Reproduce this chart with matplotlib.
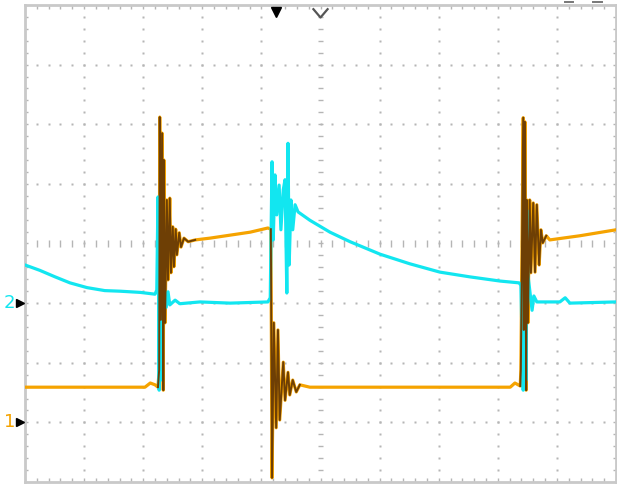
import numpy as np
import matplotlib.pyplot as plt

# screen units: 10 horizontal divisions, 8 vertical divisions
# channel 1 (orange) trace, in divisions
ch1_x = [0.00, 2.03, 2.12, 2.20, 2.25,
         2.27, 2.28, 2.30, 2.32, 2.34, 2.35, 2.37, 2.40, 2.42, 2.45, 2.47, 2.50, 2.52,
         2.55, 2.57, 2.61, 2.64, 2.69, 2.76, 2.88, 3.13, 3.47, 3.81, 4.11, 4.16,
         4.18, 4.21, 4.25, 4.28, 4.31, 4.37, 4.40, 4.45, 4.48, 4.53, 4.59, 4.65, 4.82,
         6.35, 8.21, 8.29, 8.38,
         8.39, 8.43, 8.44, 8.46, 8.48, 8.49, 8.51, 8.54, 8.56, 8.60, 8.63, 8.66, 8.70,
         8.73, 8.76, 8.82, 8.88, 9.39, 10.0]
ch1_y = [-2.41, -2.41, -2.34, -2.37, -2.41,
         -2.12, 2.12, -1.28, 1.85, -2.46, 1.40, -1.33, 0.73, -0.61, 0.76, -0.49, 0.28, -0.39,
         0.24, -0.19, 0.18, -0.06, 0.09, 0.03, 0.06, 0.09, 0.14, 0.19, 0.26, 0.24,
         -3.93, -1.33, -3.09, -1.45, -2.96, -1.99, -2.63, -2.16, -2.54, -2.29, -2.49, -2.37, -2.41,
         -2.41, -2.41, -2.34, -2.39,
         -2.12, 2.11, -1.45, 2.04, -2.46, 0.73, -1.33, 0.73, -0.49, 0.68, -0.48, 0.65, -0.36,
         0.23, 0.01, 0.13, 0.06, 0.13, 0.23]

# channel 2 (cyan) trace, in divisions
ch2_x = [0.00, 0.25, 0.51, 0.76, 1.05, 1.35, 1.61, 1.95, 2.20,
         2.23, 2.25, 2.27, 2.28, 2.30, 2.32, 2.35, 2.39, 2.42, 2.45, 2.54, 2.62, 2.96, 3.47, 4.11,
         4.15, 4.16, 4.18, 4.20, 4.23, 4.26, 4.30, 4.33, 4.37, 4.40, 4.43, 4.45, 4.47, 4.50,
         4.53, 4.57, 4.62,
         4.82, 5.16, 5.50, 6.01, 6.51, 7.02, 7.53, 8.04, 8.36,
         8.39, 8.43, 8.44, 8.48, 8.49, 8.51, 8.54, 8.58, 8.61, 8.66, 9.05, 9.14, 9.22, 10.0]
ch2_y = [-0.36, -0.45, -0.56, -0.66, -0.74, -0.79, -0.80, -0.82, -0.85,
         -0.78, 0.78, -2.46, 0.73, -2.29, -0.78, -0.66, -1.07, -0.81, -1.03, -0.95, -1.01, -0.98, -1.00, -0.98,
         -0.91, -0.11, 1.37, 0.06, 1.15, 0.48, 0.98, 0.23, 0.90, 1.07, -0.83, 1.68, -0.36, 0.73,
         0.23, 0.65, 0.53,
         0.39, 0.19, 0.03, -0.18, -0.34, -0.48, -0.56, -0.63, -0.66,
         -0.70, -2.46, 0.73, -2.29, 0.56, -0.53, -0.78, -1.12, -0.88, -0.98, -0.98, -0.91, -1.00, -0.98]

# index ranges of the ringing bursts on channel 1
ring1 = (4, 25)
ring2 = (29, 42)
ring3 = (46, 63)

ch1_ref = -3
ch2_ref = -1
trig_pos = 4.24
trig_level = 3.88

ORANGE = "#f5a300"
BROWN = "#6e3f05"
CYAN = "#12e6f0"
GRID = "#b5b5b5"

fig = plt.figure(figsize=(6.17, 4.84), dpi=100)
ax = fig.add_axes([25 / 617, 2 / 484, 591 / 617, 477 / 484])
ax.set_xlim(0, 10)
ax.set_ylim(-4, 4)
ax.set_xticks([])
ax.set_yticks([])
for s in ax.spines.values():
    s.set_color("#c9c9c9")
    s.set_linewidth(2.0)

# dotted graticule
fine = np.arange(0, 10.01, 0.2)
fine_y = np.arange(-4, 4.01, 0.2)
for gx in range(1, 10):
    if gx != 5:
        ax.plot(np.full(len(fine_y), gx), fine_y, ls="none", marker="s", ms=1.5, mec="none", color=GRID)
for gy in range(-3, 4):
    if gy != 0:
        ax.plot(fine, np.full(len(fine), gy), ls="none", marker="s", ms=1.5, mec="none", color=GRID)

# center axes and frame edges carry small tick dashes
ax.hlines(fine_y, 4.95, 5.05, color=GRID, lw=1.0)
ax.vlines(fine, -0.06, 0.06, color=GRID, lw=1.0)
ax.hlines(fine_y, 0, 0.05, color=GRID, lw=1.0)
ax.hlines(fine_y, 9.95, 10, color=GRID, lw=1.0)
ax.vlines(fine, 3.93, 4, color=GRID, lw=1.0)
ax.vlines(fine, -4, -3.93, color=GRID, lw=1.0)

# traces
ax.plot(ch1_x, ch1_y, color=ORANGE, lw=2.3, zorder=3)
ax.plot(ch2_x, ch2_y, color=CYAN, lw=2.3, zorder=4)
for a, b in (ring1, ring2, ring3):
    ax.plot(ch1_x[a:b], ch1_y[a:b], color=BROWN, lw=1.4, zorder=5)

# trigger position / level markers on top
ax.plot([trig_pos], [trig_level], marker="v", ms=7, color="black", clip_on=False, zorder=6)
ax.plot([4.88, 5.0, 5.12], [3.93, 3.79, 3.93], color="#555555", lw=1.6, clip_on=False, zorder=6)

# partially visible readout above the frame
ax.plot([9.14, 9.27], [4.05, 4.05], color="#777777", lw=1.4, clip_on=False)
ax.plot([9.61, 9.76], [4.05, 4.05], color="#777777", lw=1.4, clip_on=False)

# channel ground markers
for ref, lab, col in ((ch2_ref, "2", CYAN), (ch1_ref, "1", ORANGE)):
    ax.plot([-0.08], [ref], marker=">", ms=6, color="black", clip_on=False, zorder=6)
    ax.text(-0.26, ref, lab, color=col, fontsize=13, ha="center", va="center")

fig.savefig("out.png", dpi=100)
